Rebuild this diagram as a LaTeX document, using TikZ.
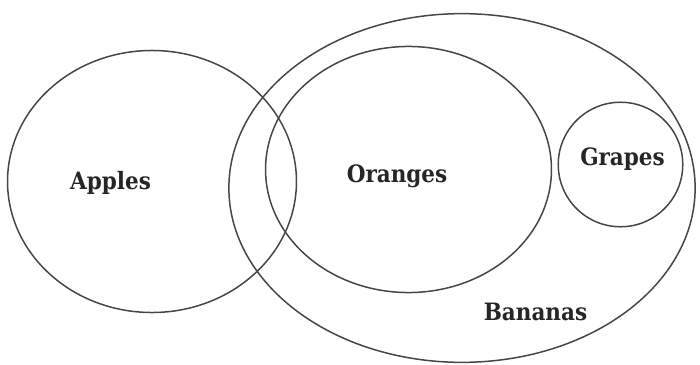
\documentclass[tikz,border=0pt]{standalone}
\usepackage{fontspec}
\setmainfont{DejaVu Serif Condensed}
\usetikzlibrary{shapes.geometric}

\begin{document}
\begin{tikzpicture}[x=1bp,y=1bp,
    set/.style={ellipse,draw=black!72,line width=1.5bp,inner sep=0pt,outer sep=0pt},
    lbl/.style={anchor=base,text=black!85,font=\fontsize{24}{28}\selectfont\bfseries},
]
	\useasboundingbox (0,0) rectangle (700,364);

	% sets
	\node[set,minimum width=290,minimum height=263] at (152,182.5) (apples) {};
	\node[set,minimum width=468,minimum height=350] at (462,176) (bananas) {};
	\node[set,minimum width=287,minimum height=247] at (408.5,194.5) (oranges) {};
	\node[set,circle,minimum size=125] at (620.5,199.5) (grapes) {};

	% names
	\node[lbl] at (110.5,175) (tapples) {Apples};
	\node[lbl] at (397,182) (toranges) {Oranges};
	\node[lbl] at (622.5,199) (tgrapes) {Grapes};
	\node[lbl] at (535.5,44) (tbananas) {Bananas};

\end{tikzpicture}
\end{document}
